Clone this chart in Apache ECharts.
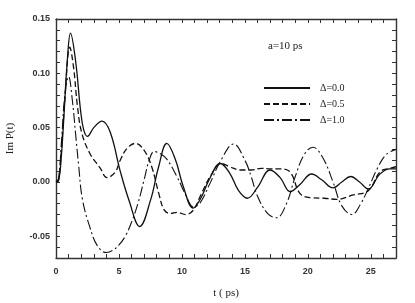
<!DOCTYPE html>
<html><head><meta charset="utf-8">
<script src="https://cdn.jsdelivr.net/npm/echarts@6/dist/echarts.min.js"></script>
<style>html,body{margin:0;padding:0;background:#fff}#c{width:415px;height:303px}</style>
</head><body><div id="c"></div>
<script>
const seriesNames = ['\u0394=0.0', '\u0394=0.5', '\u0394=1.0'];
const xTicks = [0, 5, 10, 15, 20, 25];
const yTicks = [-0.05, 0.00, 0.05, 0.10, 0.15];

const tSolid = [0, 0.2, 0.4, 0.6, 0.9, 1.15, 1.55, 1.95, 2.2, 2.5, 3.0, 3.65, 4.3, 5.1, 5.8, 6.65, 7.5, 8.15, 8.8, 9.5, 10.1, 10.9, 11.5, 12.2, 13.05, 13.8, 14.5, 15.2, 16.0, 17.0, 17.8, 18.6, 19.4, 20.3, 21.1, 22.0, 22.7, 23.4, 24.1, 24.8, 25.7, 26.5, 27];
const vSolid = [0, 0.001, 0.02, 0.055, 0.112, 0.137, 0.112, 0.066, 0.048, 0.042, 0.050, 0.056, 0.046, 0.010, -0.017, -0.041, -0.017, 0.014, 0.0355, 0.020, -0.004, -0.024, -0.015, 0.003, 0.017, 0.008, -0.008, -0.015, -0.005, 0.011, 0.004, -0.009, -0.002, 0.0073, 0.002, -0.0055, 0.000, 0.005, 0.000, -0.0065, 0.007, 0.012, 0.012];

const tDash = [0, 0.2, 0.4, 0.7, 1.1, 1.4, 1.7, 2.05, 2.7, 3.5, 4.05, 4.7, 5.1, 5.65, 6.3, 7.0, 7.6, 8.15, 8.6, 9.1, 9.6, 10.3, 10.9, 11.5, 12.3, 13.1, 13.8, 14.6, 15.5, 16.3, 17.0, 17.8, 18.6, 19.4, 20.3, 21.3, 22.3, 23.6, 24.8, 25.75, 26.5, 27];
const vDash = [0, 0.002, 0.025, 0.075, 0.124, 0.105, 0.070, 0.045, 0.026, 0.013, 0.004, 0.009, 0.020, 0.031, 0.0355, 0.029, 0.014, -0.010, -0.026, -0.029, -0.028, -0.030, -0.026, -0.012, 0.006, 0.017, 0.014, 0.011, 0.011, 0.0125, 0.012, 0.012, 0.009, -0.011, -0.0145, -0.015, -0.016, -0.012, -0.008, 0.0095, 0.0125, 0.014];

const tDot = [0, 0.2, 0.45, 0.7, 1.0, 1.3, 1.55, 1.8, 2.1, 2.7, 3.3, 4.0, 4.5, 5.0, 5.5, 6.0, 6.5, 7.0, 7.4, 7.8, 8.3, 8.8, 9.6, 10.3, 10.9, 11.4, 12.2, 13.1, 14.1, 15.0, 15.5, 16.0, 16.8, 17.5, 18.3, 19.0, 19.7, 20.4, 21.2, 22.0, 22.7, 23.5, 24.2, 24.8, 25.5, 26.2, 27];
const vDot = [0, 0.003, 0.040, 0.080, 0.097, 0.075, 0.045, 0.015, -0.016, -0.042, -0.059, -0.065, -0.063, -0.058, -0.050, -0.037, -0.020, 0.002, 0.020, 0.028, 0.026, 0.021, 0.005, -0.012, -0.023, -0.020, -0.002, 0.020, 0.035, 0.020, 0.005, -0.013, -0.029, -0.033, -0.020, 0.005, 0.025, 0.032, 0.022, 0.000, -0.022, -0.030, -0.020, -0.006, 0.012, 0.025, 0.030];

function zip(a, b) { return a.map((x, i) => [x, b[i]]); }
function near(v, list) { return list.some(t => Math.abs(t - v) < 1e-6); }

const axisLine = { show: true, onZero: false, lineStyle: { color: '#333', width: 1.4 } };
const tick = { show: true, inside: true, length: 4, lineStyle: { color: '#333', width: 1 } };
const labelFont = { fontFamily: 'Liberation Sans', fontSize: 9, fontWeight: 'bold', color: '#333' };

const chart = echarts.init(document.getElementById('c'), null, { renderer: 'canvas' });
chart.setOption({
  animation: false,
  backgroundColor: '#fff',
  grid: { left: 56, right: 19, top: 19, bottom: 45, containLabel: false, outerBoundsMode: 'none' },
  xAxis: [{
    type: 'value', min: 0, max: 27, interval: 1, position: 'bottom',
    axisLine, axisTick: tick, splitLine: { show: false },
    axisLabel: Object.assign({ margin: 9, formatter: v => near(v, xTicks) ? String(Math.round(v)) : '' }, labelFont),
    name: 't ( ps)', nameLocation: 'middle', nameGap: 30,
    nameTextStyle: { fontFamily: 'Liberation Serif', fontSize: 11, color: '#222' }
  }, {
    type: 'value', min: 0, max: 27, interval: 1, position: 'top',
    axisLine, axisTick: tick, axisLabel: { show: false }, splitLine: { show: false }
  }],
  yAxis: [{
    type: 'value', min: -0.07, max: 0.15, interval: 0.01, position: 'left',
    axisLine, axisTick: tick, splitLine: { show: false },
    axisLabel: Object.assign({ margin: 6, formatter: v => near(v, yTicks) ? v.toFixed(2) : '' }, labelFont),
    name: 'Im P(t)', nameLocation: 'middle', nameGap: 40, nameRotate: 90,
    nameTextStyle: { fontFamily: 'Liberation Serif', fontSize: 11, color: '#222' }
  }, {
    type: 'value', min: -0.07, max: 0.15, interval: 0.01, position: 'right',
    axisLine, axisTick: tick, axisLabel: { show: false }, splitLine: { show: false }
  }],
  legend: {
    orient: 'vertical', left: 258, top: 78, itemWidth: 46, itemHeight: 9, itemGap: 6,
    data: seriesNames,
    itemStyle: { opacity: 0 },
    textStyle: { fontFamily: 'Liberation Serif', fontSize: 10, color: '#222', padding: [0, 0, 0, 5] }
  },
  graphic: [{
    type: 'text', left: 268, top: 41,
    style: { text: 'a=10 ps', fontFamily: 'Liberation Serif', fontSize: 11, fill: '#222' }
  }],
  series: [
    { name: seriesNames[0], type: 'line', data: zip(tSolid, vSolid), smooth: 0.4, symbol: 'none',
      lineStyle: { color: '#111', width: 1.3, type: 'solid' } },
    { name: seriesNames[1], type: 'line', data: zip(tDash, vDash), smooth: 0.4, symbol: 'none',
      lineStyle: { color: '#111', width: 1.3, type: [6, 3] } },
    { name: seriesNames[2], type: 'line', data: zip(tDot, vDot), smooth: 0.4, symbol: 'none',
      lineStyle: { color: '#111', width: 1.1, type: [10, 3, 2, 3] } }
  ]
});
</script></body></html>
